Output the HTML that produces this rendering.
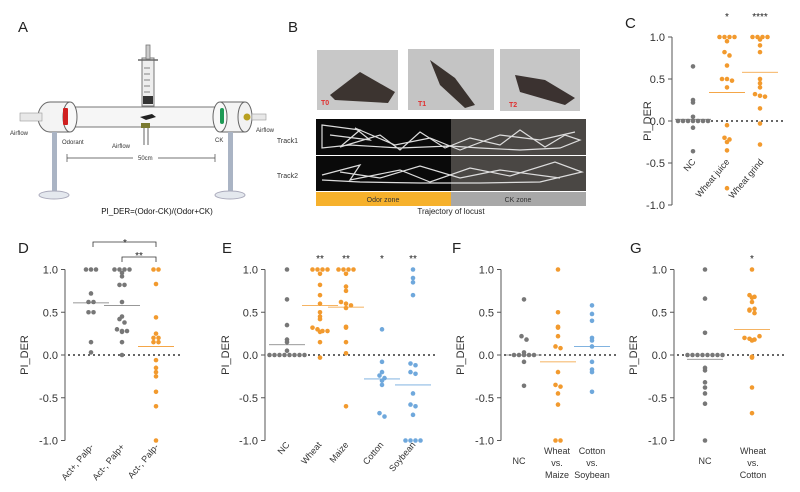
<!DOCTYPE html>
<html><head><meta charset="utf-8"><style>
body{margin:0;background:#fff}
svg{display:block;font-family:"Liberation Sans",sans-serif}
</style></head><body>
<svg id="s" width="800" height="492" viewBox="0 0 800 492" xmlns="http://www.w3.org/2000/svg">
<rect width="800" height="492" fill="#fff"/>
<!-- Panel A -->
<text x="18" y="32" font-size="15" fill="#222">A</text>
<text x="288" y="32" font-size="15" fill="#222">B</text>
<!-- syringe -->
<rect x="142" y="58" width="12" height="48" fill="#eee" stroke="#777" stroke-width="1"/>
<rect x="146" y="45" width="4" height="14" fill="#ccc" stroke="#777" stroke-width=".8"/>
<line x1="138" y1="60" x2="158" y2="60" stroke="#666" stroke-width="1.5"/>
<g stroke="#666" stroke-width=".8"><line x1="144" y1="68" x2="150" y2="68"/><line x1="144" y1="74" x2="150" y2="74"/><line x1="144" y1="80" x2="150" y2="80"/><line x1="144" y1="86" x2="150" y2="86"/><line x1="144" y1="92" x2="150" y2="92"/></g>
<rect x="143" y="96" width="10" height="8" fill="#333"/>
<!-- tube -->
<rect x="70" y="107" width="152" height="20" fill="#f6f6f6" stroke="#777"/>
<ellipse cx="50" cy="117" rx="12" ry="15" fill="#f2f2f2" stroke="#666"/>
<rect x="50" y="102" width="22" height="30" fill="#f4f4f4"/>
<line x1="50" y1="102" x2="70" y2="102" stroke="#666"/><line x1="50" y1="132" x2="70" y2="132" stroke="#666"/>
<ellipse cx="70" cy="117" rx="7" ry="15" fill="#f8f8f8" stroke="#666"/>
<rect x="63" y="108" width="5" height="17" fill="#d02020" rx="1"/>
<rect x="20" y="113" width="22" height="8" fill="#e8e8e8" stroke="#999" stroke-width=".6"/>
<rect x="220" y="102" width="25" height="30" fill="#f4f4f4"/>
<line x1="220" y1="102" x2="245" y2="102" stroke="#666"/><line x1="220" y1="132" x2="245" y2="132" stroke="#666"/>
<ellipse cx="220" cy="117" rx="7" ry="15" fill="#f8f8f8" stroke="#666"/>
<ellipse cx="245" cy="117" rx="7" ry="15" fill="#f2f2f2" stroke="#666"/>
<rect x="220" y="108" width="4" height="16" fill="#1e9a55" rx="2"/>
<circle cx="247" cy="117" r="3.5" fill="#b8a020"/>
<rect x="252" y="114" width="14" height="6" fill="#e8e8e8" stroke="#999" stroke-width=".6"/>
<path d="M140 117 L152 114 L156 117 L146 120Z" fill="#222"/>
<rect x="141" y="123" width="9" height="5" fill="#7a7a30"/>
<line x1="144" y1="128" x2="144" y2="145" stroke="#666"/><line x1="148" y1="128" x2="148" y2="145" stroke="#666"/>
<!-- stands -->
<rect x="52" y="132" width="5" height="60" fill="#aab4c4"/>
<ellipse cx="54" cy="195" rx="15" ry="4" fill="#e4e8ee" stroke="#aab"/>
<rect x="228" y="132" width="5" height="60" fill="#aab4c4"/>
<ellipse cx="230" cy="195" rx="15" ry="4" fill="#e4e8ee" stroke="#aab"/>
<g font-size="6" fill="#333">
<text x="10" y="135">Airflow</text><text x="62" y="144">Odorant</text><text x="112" y="148">Airflow</text>
<text x="215" y="142">CK</text><text x="256" y="132">Airflow</text>
<text x="138" y="160">50cm</text></g>
<line x1="67" y1="158" x2="133" y2="158" stroke="#444" stroke-width=".7"/><line x1="158" y1="158" x2="215" y2="158" stroke="#444" stroke-width=".7"/>
<line x1="67" y1="154" x2="67" y2="162" stroke="#444" stroke-width=".7"/><line x1="215" y1="154" x2="215" y2="162" stroke="#444" stroke-width=".7"/>
<text x="157" y="214" font-size="8" text-anchor="middle" fill="#111">PI_DER=(Odor-CK)/(Odor+CK)</text>
<!-- Panel B -->
<rect x="317" y="50" width="81" height="60" fill="#c8c8c8"/>
<rect x="408" y="49" width="86" height="61" fill="#c4c4c4"/>
<rect x="500" y="49" width="80" height="62" fill="#c6c6c6"/>
<path d="M330 95 L360 72 L395 92 L388 103 L335 100Z" fill="#3c3430"/>
<path d="M430 60 L455 78 L475 105 L465 108 L440 85Z" fill="#3a322e"/>
<path d="M515 75 L545 80 L575 98 L565 105 L520 92Z" fill="#3b3230"/>
<g font-size="7" fill="#e03030" font-weight="bold"><text x="321" y="105">T0</text><text x="418" y="106">T1</text><text x="509" y="107">T2</text></g>
<rect x="316" y="119" width="135" height="36" fill="#0a0a0a"/><rect x="451" y="119" width="135" height="36" fill="#4a4744"/>
<rect x="316" y="156" width="135" height="35" fill="#0a0a0a"/><rect x="451" y="156" width="135" height="35" fill="#4a4744"/>
<g stroke="#ddd" stroke-width="1.2" fill="none">
<path d="M322 125 L360 130 L340 147 L380 135 L400 150 L420 132 L445 148 L470 138 L500 145 L520 130 L545 147 L565 135 L580 140 L560 148 L520 150 L480 148 L450 146 L400 148 L350 145 L322 148Z"/>
<path d="M330 135 L370 140 L355 128 L395 145 L430 138 L460 150 L500 135 L540 140 L575 132"/>
<path d="M322 175 L360 165 L350 180 L400 170 L430 182 L470 168 L510 176 L555 162 L582 172 L540 182 L480 183 L420 183 L360 182 L322 180"/>
<path d="M340 172 L380 178 L420 166 L460 178 L500 170 L560 178"/></g>
<rect x="316" y="192" width="135" height="14" fill="#f6b12c"/><rect x="451" y="192" width="135" height="14" fill="#a8a8a8"/>
<g font-size="7" fill="#333"><text x="383" y="202" text-anchor="middle">Odor zone</text><text x="518" y="202" text-anchor="middle">CK zone</text>
<text x="298" y="143" text-anchor="end">Track1</text><text x="298" y="178" text-anchor="end">Track2</text></g>
<text x="451" y="214" font-size="8" text-anchor="middle" fill="#222">Trajectory of locust</text>
<g id="plots"></g>
</svg>
<script>
var G=document.getElementById('plots'),h='';
var OR='#f29a2e',GR='#777',BL='#6fa8dc';
function axis(ax,y0,sc,yt,yb,label,lx,ly){
 h+='<line x1="'+ax+'" y1="'+(y0-sc)+'" x2="'+ax+'" y2="'+(y0+sc)+'" stroke="#555" stroke-width="1"/>';
 [1,0.5,0,-0.5,-1].forEach(function(v){var y=y0-v*sc;h+='<line x1="'+(ax-4)+'" y1="'+y+'" x2="'+ax+'" y2="'+y+'" stroke="#555"/>';
 h+='<text x="'+(ax-7)+'" y="'+(y+4)+'" font-size="11" text-anchor="end" fill="#333">'+(v==1?'1.0':v==0?'0.0':v==-1?'-1.0':v==0.5?'0.5':'-0.5')+'</text>';});
 h+='<text transform="translate('+lx+','+y0+') rotate(-90)" font-size="11" text-anchor="middle" fill="#333">PI_DER</text>';
 h+='<text x="'+label[1]+'" y="'+label[2]+'" font-size="15" fill="#222">'+label[0]+'</text>';
}
function dline(x1,x2,y){h+='<line x1="'+x1+'" y1="'+y+'" x2="'+x2+'" y2="'+y+'" stroke="#333" stroke-width="1.6" stroke-dasharray="2,3"/>';}
function grp(cx,y0,sc,vals,col,mean){
 var cnt={};vals.forEach(function(v){var k=Math.round(v*20);cnt[k]=(cnt[k]||0)+1;});var seen={};
 vals.forEach(function(v){var k=Math.round(v*20);var n=cnt[k];seen[k]=(seen[k]||0);var i=seen[k]++;var x=cx+(i-(n-1)/2)*5;
 h+='<circle cx="'+x+'" cy="'+(y0-v*sc)+'" r="2.3" fill="'+col+'"/>';});
 if(mean!==undefined){h+='<line x1="'+(cx-18)+'" y1="'+(y0-mean*sc)+'" x2="'+(cx+18)+'" y2="'+(y0-mean*sc)+'" stroke="'+col+'" stroke-width=".8"/>';}
}
function rl(x,y,t){h+='<text transform="translate('+x+','+y+') rotate(-50)" font-size="9" text-anchor="end" fill="#333">'+t+'</text>';}
function star(x,y,t){h+='<text x="'+x+'" y="'+y+'" font-size="10" text-anchor="middle" fill="#222">'+t+'</text>';}
// C
axis(672,121,84,0,0,['C',625,28],651);dline(676,785,121);
grp(693,121,84,[0.65,0.25,0.22,0.05,0,0,0,0,0,0,0,-0.08,-0.36],GR,0.02);
grp(727,121,84,[1,1,1,1,0.95,0.82,0.78,0.66,0.5,0.5,0.48,0.4,-0.05,-0.2,-0.22,-0.25,-0.35,-0.8],OR,0.34);
grp(760,121,84,[1,1,1,1,0.97,0.9,0.82,0.5,0.45,0.4,0.32,0.3,0.29,0.15,-0.03,-0.28],OR,0.58);
star(727,20,'*');star(760,20,'****');
rl(696,162,'NC');rl(730,162,'Wheat juice');rl(764,162,'Wheat grind');
// D
axis(65,355,85.5,0,0,['D',18,253],28);dline(68,180,355);
grp(91,355,85.5,[1,1,1,0.72,0.62,0.62,0.5,0.5,0.15,0.03],GR,0.61);
grp(122,355,85.5,[1,1,1,1,0.96,0.92,0.82,0.82,0.62,0.45,0.42,0.38,0.3,0.28,0.28,0.27,0.15,0],GR,0.58);
grp(156,355,85.5,[1,1,0.83,0.44,0.25,0.2,0.2,0.15,0.15,-0.06,-0.15,-0.2,-0.25,-0.43,-0.6,-1],OR,0.1);
h+='<path d="M93 247 V242 H156 V247 M122 262 V257 H156 V262" stroke="#333" fill="none" stroke-width=".8"/>';
star(125,246,'*');star(139,259,'**');
rl(94,447,'Act+, Palp-');rl(125,447,'Act-, Palp+');rl(159,447,'Act-, Palp-');
// E
axis(265,355,85.5,0,0,['E',222,253],229);dline(268,435,355);
grp(287,355,85.5,[1,0.65,0.35,0.18,0.15,0.05,0,0,0,0,0,0,0,0],GR,0.12);
grp(320,355,85.5,[1,1,1,1,0.95,0.82,0.7,0.6,0.5,0.45,0.42,0.32,0.3,0.28,0.28,0.27,0.15,-0.03],OR,0.58);
grp(346,355,85.5,[1,1,1,1,0.95,0.8,0.75,0.62,0.6,0.58,0.55,0.33,0.32,0.15,0.02,-0.6],OR,0.56);
grp(382,355,85.5,[0.3,-0.08,-0.2,-0.24,-0.27,-0.3,-0.35,-0.68,-0.72],BL,-0.28);
grp(413,355,85.5,[1,0.9,0.85,0.7,-0.1,-0.12,-0.2,-0.22,-0.45,-0.58,-0.6,-0.7,-1,-1,-1,-1],BL,-0.35);
star(320,262,'**');star(346,262,'**');star(382,262,'*');star(413,262,'**');
rl(290,445,'NC');rl(322,445,'Wheat');rl(349,445,'Maize');rl(384,445,'Cotton');rl(416,445,'Soybean');
// F
axis(501,355,85.5,0,0,['F',452,253],464);dline(504,616,355);
grp(524,355,85.5,[0.65,0.22,0.18,0.03,0,0,0,0,0,-0.08,-0.36],GR,0);
grp(558,355,85.5,[1,0.5,0.33,0.32,0.22,0.1,0.08,-0.2,-0.35,-0.37,-0.45,-0.58,-1,-1],OR,-0.08);
grp(592,355,85.5,[0.58,0.48,0.4,0.2,0.17,0.1,-0.08,-0.17,-0.2,-0.43],BL,0.1);
h+='<g font-size="9" fill="#333" text-anchor="middle"><text x="519" y="464">NC</text><text x="557" y="454">Wheat</text><text x="557" y="466">vs.</text><text x="557" y="478">Maize</text><text x="592" y="454">Cotton</text><text x="592" y="466">vs.</text><text x="592" y="478">Soybean</text>';
h+='<text x="705" y="464">NC</text><text x="753" y="454">Wheat</text><text x="753" y="466">vs.</text><text x="753" y="478">Cotton</text></g>';
// G
axis(674,355,85.5,0,0,['G',630,253],637);dline(677,786,355);
grp(705,355,85.5,[1,0.66,0.26,0,0,0,0,0,0,0,0,-0.15,-0.18,-0.32,-0.38,-0.45,-0.57,-1],GR,-0.05);
grp(752,355,85.5,[1,0.7,0.68,0.67,0.62,0.53,0.52,0.49,0.54,0.2,0.19,0.18,0.17,0.22,-0.02,-0.03,-0.38,-0.68],OR,0.3);
star(752,262,'*');
G.innerHTML=h;
</script>
</body></html>
